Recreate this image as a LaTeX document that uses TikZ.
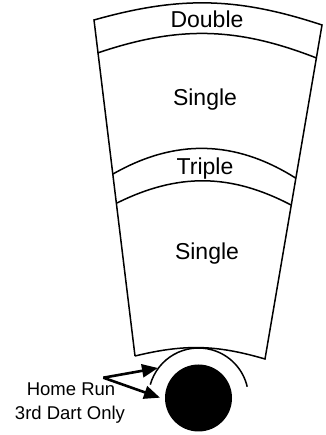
\documentclass[tikz,border=0pt]{standalone}
\usepackage{fontspec}
\setmainfont{Liberation Sans}
\usetikzlibrary{arrows.meta}
\tikzset{
  ring/.style={line width=1.5pt},
  zone/.style={anchor=base, font=\fontsize{23}{26}\selectfont},
  note/.style={anchor=base, font=\fontsize{18.5}{22}\selectfont},
  pointer/.style={line width=2.6pt, -{Triangle[length=16pt,width=13pt]}}
}
\begin{document}
\begin{tikzpicture}[x=1pt,y=1pt]
\useasboundingbox (0,0) rectangle (325,435);
% corners of the wedge
\coordinate (TL) at (94,415);
\coordinate (TR) at (322,410);
\coordinate (DL) at (97.5,382);
\coordinate (DR) at (316.5,377);
\coordinate (UL) at (113,261);
\coordinate (UR) at (295.5,257);
\coordinate (LL) at (117,232);
\coordinate (LR) at (291,230);
\coordinate (BL) at (135,79);
\coordinate (BR) at (265,76);
\draw[ring] (BL) -- (TL) to[bend left=17] (TR) -- (BR) to[bend right=15] (BL);
\draw[ring] (DL) to[bend left=20] (DR);
\draw[ring] (UL) to[bend left=31] (UR);
\draw[ring] (LL) to[bend left=27] (LR);
% bull
\node[circle, fill, minimum size=67pt, inner sep=0pt] (bull) at (198.5,37) {};
\draw[ring] (bull.center) ++(164.5:50) arc[start angle=164.5, end angle=13, radius=50];
% labels
\node[zone] (double) at (207,407.7) {Double};
\node[zone] (single1) at (205,329) {Single};
\node[zone] (triple) at (205,260) {Triple};
\node[zone] (single2) at (207,175) {Single};
\node[note] (home) at (71,39) {Home Run};
\node[note] (third) at (70,15.7) {3rd Dart Only};
% pointers
\coordinate (src) at (103.3,57.3);
\coordinate (tipA) at (158,67);
\coordinate (tipB) at (160,37.3);
\draw[pointer] (src) -- (tipA);
\draw[pointer] (src) -- (tipB);
\end{tikzpicture}
\end{document}
